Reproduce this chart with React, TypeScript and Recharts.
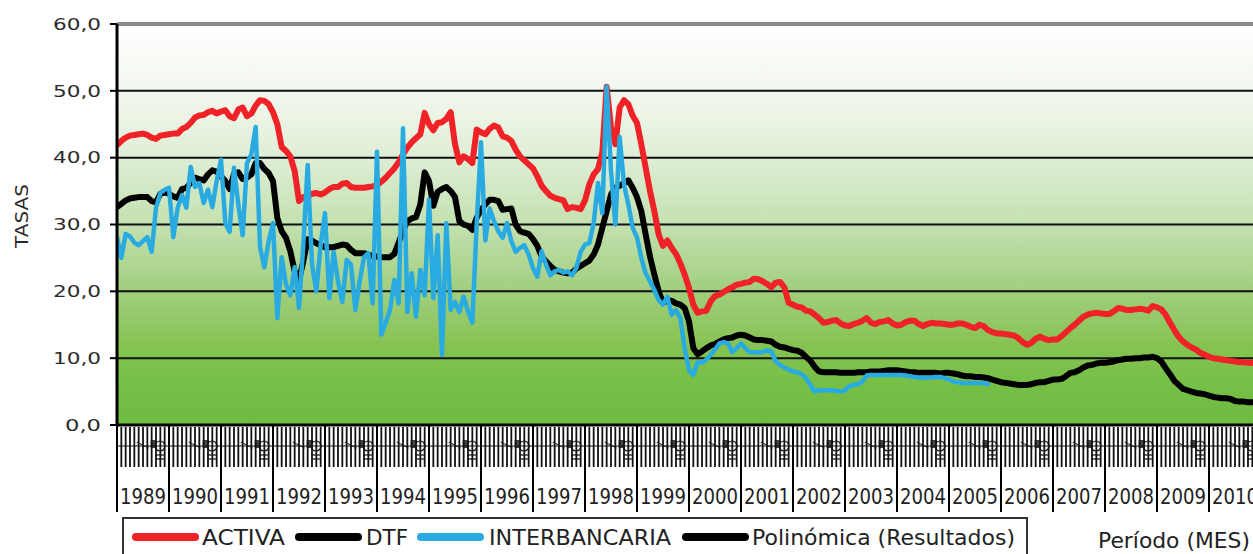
import React from 'react';
import { LineChart, Line, XAxis, YAxis, CartesianGrid, ReferenceLine } from 'recharts';

const years = ['1989','1990','1991','1992','1993','1994','1995','1996','1997','1998','1999','2000','2001','2002','2003','2004','2005','2006','2007','2008','2009','2010'];

const activa = [
  41.9, 42.5, 43.0, 43.3, 43.4, 43.5, 43.6, 43.4, 43.0, 42.8, 43.3, 43.4,
  43.5, 43.6, 43.6, 44.3, 44.6, 45.2, 46.0, 46.3, 46.4, 46.8, 47.0, 46.6,
  46.9, 47.1, 46.2, 45.9, 47.2, 47.5, 46.2, 46.6, 47.8, 48.6, 48.5, 48.0,
  46.8, 45.0, 41.6, 41.0, 40.2, 38.0, 33.5, 34.1, 34.3, 34.6, 34.7, 34.5,
  34.8, 35.3, 35.6, 35.6, 36.1, 36.2, 35.6, 35.5, 35.5, 35.5, 35.6, 35.7,
  35.9, 36.4, 37.0, 37.7, 38.4, 39.3, 40.5, 41.5, 42.3, 42.9, 43.5, 46.7,
  45.0, 44.1, 45.2, 45.3, 45.8, 46.8, 42.0, 39.3, 40.2, 39.8, 39.2, 44.2,
  43.8, 43.5, 44.3, 44.8, 44.5, 43.2, 43.0, 42.5, 41.2, 40.2, 39.6, 39.0,
  38.4, 37.2, 35.8, 35.0, 34.3, 34.0, 33.8, 33.6, 32.3, 32.6, 32.5, 32.3,
  33.6, 36.0, 37.5, 38.3, 40.8, 50.6, 44.5, 42.0, 47.5, 48.6, 48.0, 46.3,
  45.2, 42.0, 38.5, 35.0, 32.0, 28.5, 26.8, 27.6, 26.5, 25.6, 24.2, 22.5,
  20.5, 18.0, 16.8, 17.0, 17.1, 18.5, 19.3, 19.5, 19.9, 20.3, 20.6, 21.0,
  21.1, 21.3, 21.4, 21.9, 21.8, 21.5, 21.1, 20.6, 21.3, 21.4, 20.6, 18.3,
  18.0, 17.7, 17.6, 17.1, 17.0, 16.5, 16.0, 15.3, 15.4, 15.6, 15.7, 15.2,
  14.9, 14.8, 15.1, 15.3, 15.6, 16.0, 15.3, 15.1, 15.4, 15.5, 15.7, 15.2,
  14.9, 15.0, 15.4, 15.6, 15.6, 15.1, 14.8, 15.1, 15.3, 15.2, 15.2, 15.1,
  15.0, 15.0, 15.2, 15.2, 15.0, 14.7, 14.5, 15.0, 14.8, 14.2, 13.9, 13.7,
  13.7, 13.6, 13.5, 13.4, 13.0, 12.4, 12.0, 12.3, 12.9, 13.2, 12.9, 12.7,
  12.8, 12.8, 13.3, 13.9, 14.5, 15.0, 15.6, 16.2, 16.5, 16.7, 16.8, 16.7,
  16.6, 16.6, 17.0, 17.5, 17.4, 17.2, 17.2, 17.3, 17.4, 17.3, 17.1, 17.8,
  17.6, 17.3, 16.5, 15.3, 14.2, 13.2, 12.5, 12.0, 11.6, 11.3, 10.8, 10.5,
  10.2, 10.0, 9.9, 9.8, 9.7, 9.6, 9.5, 9.4, 9.4, 9.3, 9.3, 9.2,
];

const dtf = [
  32.6, 33.1, 33.6, 33.9, 34.0, 34.1, 34.1, 34.1, 33.5, 33.3, 34.6, 34.8,
  34.6, 34.2, 34.0, 35.3, 35.5, 36.2, 37.0, 36.8, 36.6, 37.5, 38.1, 37.9,
  37.2, 36.5, 35.3, 37.6, 37.8, 36.8, 37.0, 37.5, 39.2, 39.2, 38.3, 37.7,
  36.5, 31.0, 29.0, 28.0, 26.0, 23.0, 21.7, 24.5, 27.8, 27.6, 27.2, 26.9,
  26.6, 26.6, 26.6, 26.8, 27.0, 26.9, 26.2, 25.7, 25.7, 25.7, 25.5, 25.3,
  25.2, 25.1, 25.1, 25.1, 25.6, 27.3, 29.0, 30.5, 30.9, 31.1, 33.0, 37.8,
  36.5, 32.8, 34.9, 35.3, 35.6, 35.0, 34.1, 30.5, 30.0, 29.8, 29.2, 31.0,
  32.2, 33.0, 33.7, 33.7, 33.5, 32.2, 32.3, 32.4, 30.0, 29.0, 28.8, 28.6,
  27.8, 26.8, 25.2, 24.5, 23.8, 23.2, 23.0, 22.8, 22.7, 22.8, 23.4, 23.8,
  24.2, 24.6, 25.5, 27.0, 29.5, 32.0, 34.5, 35.5, 35.8, 36.2, 36.6, 35.5,
  34.1, 32.0, 28.5, 25.2, 22.5, 20.0, 18.3, 18.6, 18.6, 18.2, 18.0, 17.5,
  15.5, 11.5, 10.6, 11.0, 11.5, 11.9, 12.1, 12.5, 12.8, 13.0, 13.1, 13.4,
  13.5, 13.4, 13.1, 12.8, 12.7, 12.7, 12.6, 12.5, 12.0, 11.7, 11.6, 11.4,
  11.2, 11.1, 10.8, 10.2, 9.6, 8.7, 8.0, 7.9, 7.9, 7.9, 7.9, 7.8,
  7.8, 7.8, 7.8, 7.9, 7.9, 7.9, 8.0, 8.0, 8.0, 8.1, 8.2, 8.2,
  8.2, 8.1, 8.0, 7.9, 7.9, 7.8, 7.8, 7.8, 7.8, 7.8, 7.7, 7.8,
  7.8, 7.7, 7.6, 7.4, 7.3, 7.3, 7.2, 7.2, 7.1, 7.0, 6.8, 6.6,
  6.4, 6.3, 6.2, 6.1, 6.0, 6.0, 6.0, 6.1, 6.3, 6.4, 6.4, 6.6,
  6.8, 6.8, 6.9, 7.3, 7.8, 7.9, 8.2, 8.6, 8.9, 9.0, 9.2, 9.3,
  9.3, 9.4, 9.5, 9.7, 9.8, 9.9, 9.9, 10.0, 10.0, 10.1, 10.1, 10.2,
  10.0, 9.5, 8.5, 7.6, 6.6, 6.0, 5.4, 5.2, 5.0, 4.8, 4.7, 4.6,
  4.4, 4.2, 4.1, 4.0, 4.0, 3.9, 3.6, 3.5, 3.5, 3.4, 3.4, 3.4,
];

const interbancaria = [
  28.1, 25.0, 28.6, 28.2, 27.3, 26.9, 27.5, 28.1, 25.9, 32.5, 34.7, 35.2,
  35.5, 28.1, 32.5, 34.4, 32.5, 38.6, 35.6, 36.2, 33.2, 35.2, 32.6, 36.5,
  39.7, 30.2, 28.9, 38.5, 33.0, 28.4, 39.2, 40.5, 44.6, 26.6, 23.6, 27.5,
  30.2, 16.0, 25.1, 21.0, 19.4, 23.6, 17.5, 27.0, 38.9, 24.0, 20.0, 27.0,
  31.7, 19.0, 25.9, 21.5, 18.4, 24.7, 24.0, 17.2, 21.5, 25.1, 25.7, 18.2,
  40.9, 13.5, 15.3, 17.2, 21.7, 18.2, 44.4, 16.9, 22.7, 16.2, 23.2, 19.4,
  33.7, 19.0, 28.4, 10.5, 30.2, 17.2, 18.4, 16.9, 19.2, 17.0, 15.3, 30.0,
  42.3, 27.6, 32.4, 30.5, 29.0, 28.0, 30.2, 27.5, 25.9, 26.5, 26.9, 25.5,
  23.5, 22.2, 26.0, 24.0, 22.4, 23.0, 23.2, 22.8, 23.0, 22.4, 23.5, 25.9,
  27.0, 27.2, 30.2, 36.2, 31.7, 50.6, 38.0, 30.0, 43.1, 36.0, 33.0, 29.5,
  28.1, 25.0, 22.7, 21.5, 20.2, 18.7, 18.0, 19.2, 16.5, 17.2, 16.0, 11.5,
  8.2, 7.5, 9.4, 9.3, 9.8, 10.5, 11.3, 12.2, 12.4, 12.2, 10.9, 11.5,
  12.2, 11.5, 10.9, 10.9, 10.9, 10.9, 11.2, 11.0, 9.5, 9.0, 8.6, 8.3,
  8.0, 7.9, 7.6, 7.0, 6.0, 5.0, 5.2, 5.2, 5.2, 5.2, 5.1, 5.0,
  5.2, 5.8, 6.0, 6.1, 6.5, 7.4, 7.5, 7.5, 7.5, 7.5, 7.5, 7.5,
  7.5, 7.5, 7.4, 7.3, 7.2, 7.1, 7.1, 7.1, 7.1, 7.2, 7.2, 7.0,
  6.8, 6.5, 6.4, 6.3, 6.3, 6.3, 6.3, 6.3, 6.3, 6.1,
];

const yTicks = [0, 10, 20, 30, 40, 50, 60];
const yTickLabels = ['0,0', '10,0', '20,0', '30,0', '40,0', '50,0', '60,0'];

const legendItems = [
  { name: 'ACTIVA', color: '#ee2227', x: 133, tx: 202, w: 83 },
  { name: 'DTF', color: '#000000', x: 296, tx: 366, w: 42 },
  { name: 'INTERBANCARIA', color: '#29abe2', x: 418, tx: 489, w: 182 },
  { name: 'Polinómica (Resultados)', color: '#000000', x: 683, tx: 752, w: 263 },
];

const data = activa.map((v, i) => ({
  m: i,
  activa: v,
  dtf: dtf[i],
  inter: i < interbancaria.length ? interbancaria[i] : null,
}));
const monthTicks = data.map((d) => d.m);

const FONT = 'DejaVu Sans, Verdana, sans-serif';
const MONTH_W = 1144 / 264;

const MonthTick = (props: any) => {
  const { x, y, payload } = props;
  const m = payload.value as number;
  const isYear = m % 12 === 0;
  return (
    <g>
      <line x1={x} x2={x} y1={y + 2} y2={y + 42} stroke="#111" strokeWidth={1.8} />
      <line x1={x} x2={x + MONTH_W} y1={y + 21} y2={y + 21} stroke="#111" strokeWidth={1} />
      {m % 12 === 5 && (
        <g>
          <line x1={x - 2} x2={x + 10} y1={y + 17} y2={y + 23} stroke="#111" strokeWidth={1} />
          <rect x={x + 12} y={y + 15} width={6} height={8} fill="#444" />
        </g>
      )}
      {isYear && (
        <g>
          <line x1={x} x2={x} y1={y} y2={y + 87} stroke="#000" strokeWidth={2} />
          <circle cx={x + 43} cy={y + 21} r={5} fill="#fff" stroke="#111" strokeWidth={1.2} />
          <line x1={x + 38} x2={x + 48} y1={y + 30} y2={y + 30} stroke="#111" strokeWidth={1.2} />
          <line x1={x + 38} x2={x + 48} y1={y + 34} y2={y + 34} stroke="#111" strokeWidth={1.2} />
          <text
            x={x + 3}
            y={y + 79}
            textLength={46}
            lengthAdjust="spacingAndGlyphs"
            fontSize={21}
            fontFamily={FONT}
            fill="#222"
          >
            {years[m / 12]}
          </text>
        </g>
      )}
    </g>
  );
};

const YTick = (props: any) => {
  const { x, y, payload } = props;
  const idx = yTicks.indexOf(payload.value);
  const label = yTickLabels[idx] ?? '';
  return (
    <text
      x={x - 7}
      y={y}
      dy="0.36em"
      textAnchor="end"
      fontSize={16}
      fontFamily={FONT}
      fill="#2a2a2a"
      textLength={label.length * 12}
      lengthAdjust="spacingAndGlyphs"
    >
      {label}
    </text>
  );
};

export default function App() {
  return (
    <div
      style={{
        position: 'fixed',
        left: 0,
        top: 0,
        width: 1253,
        height: 554,
        overflow: 'hidden',
        background: '#fff',
      }}
    >
      <LineChart
        width={1300}
        height={554}
        data={data}
        margin={{ top: 24, right: 39, left: 0, bottom: 0 }}
        style={{ fontFamily: FONT }}
      >
        <defs>
          <linearGradient id="bg" x1="0" y1="0" x2="0" y2="1">
            <stop offset="0%" stopColor="#ffffff" />
            <stop offset="17%" stopColor="#f2f7ee" />
            <stop offset="33%" stopColor="#dfeed6" />
            <stop offset="50%" stopColor="#c3e1b0" />
            <stop offset="66%" stopColor="#a2cf80" />
            <stop offset="80%" stopColor="#86c352" />
            <stop offset="90%" stopColor="#76bf46" />
            <stop offset="100%" stopColor="#6fbb43" />
          </linearGradient>
        </defs>
        <CartesianGrid
          vertical={false}
          stroke="#111"
          strokeWidth={2}
          fill="url(#bg)"
          fillOpacity={1}
        />
        <XAxis
          type="number"
          dataKey="m"
          domain={[0, 264]}
          ticks={monthTicks}
          interval={0}
          tick={<MonthTick />}
          tickLine={false}
          tickSize={0}
          tickMargin={0}
          axisLine={{ stroke: '#000', strokeWidth: 3 }}
          height={129}
          allowDataOverflow
        />
        <YAxis
          type="number"
          domain={[0, 60]}
          ticks={yTicks}
          interval={0}
          width={117}
          tick={<YTick />}
          tickLine={{ stroke: '#000', strokeWidth: 2 }}
          tickSize={7}
          tickMargin={2}
          axisLine={{ stroke: '#000', strokeWidth: 3 }}
        />
        <ReferenceLine y={60} stroke="#8a8a8a" strokeWidth={4} />
        <Line
          type="linear"
          dataKey="activa"
          stroke="#ee2227"
          strokeWidth={6}
          dot={false}
          strokeLinejoin="round"
          strokeLinecap="round"
          isAnimationActive={false}
        />
        <Line
          type="linear"
          dataKey="dtf"
          stroke="#000000"
          strokeWidth={6}
          dot={false}
          strokeLinejoin="round"
          strokeLinecap="round"
          isAnimationActive={false}
        />
        <Line
          type="linear"
          dataKey="inter"
          stroke="#29abe2"
          strokeWidth={4.5}
          dot={false}
          strokeLinejoin="round"
          strokeLinecap="round"
          connectNulls={false}
          isAnimationActive={false}
        />
      </LineChart>
      <svg
        width={1253}
        height={554}
        style={{ position: 'absolute', left: 0, top: 0, pointerEvents: 'none' }}
      >
        <text
          transform="translate(28,216) rotate(-90)"
          textAnchor="middle"
          fontSize={17}
          fontFamily={FONT}
          fill="#2a2a2a"
          textLength={64}
          lengthAdjust="spacingAndGlyphs"
        >
          TASAS
        </text>
        <rect x={123} y={518} width={904} height={60} fill="none" stroke="#333" strokeWidth={2} />
        {legendItems.map((it) => (
          <g key={it.name}>
            <line
              x1={it.x + 3}
              x2={it.x + 62}
              y1={537}
              y2={537}
              stroke={it.color}
              strokeWidth={8}
              strokeLinecap="round"
            />
            <text
              x={it.tx}
              y={545}
              fontSize={22}
              fontFamily={FONT}
              fill="#222"
              textLength={it.w}
              lengthAdjust="spacingAndGlyphs"
            >
              {it.name}
            </text>
          </g>
        ))}
        <text x={1098} y={548} fontSize={22} fontFamily={FONT} fill="#222" textLength={152} lengthAdjust="spacingAndGlyphs">
          Período (MES)
        </text>
      </svg>
    </div>
  );
}
